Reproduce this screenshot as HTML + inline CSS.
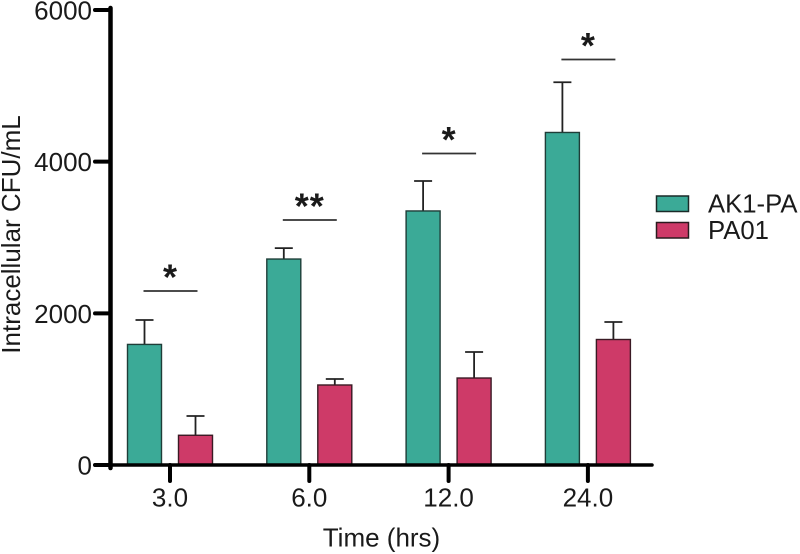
<!DOCTYPE html>
<html><head><meta charset="utf-8"><style>
html,body{margin:0;padding:0;background:#fff;}
svg{display:block;filter:blur(0.35px);}
text{font-family:"Liberation Sans",sans-serif;fill:#1a1a1a;}
</style></head><body>
<svg id="chart" xmlns="http://www.w3.org/2000/svg" width="800" height="554" viewBox="0 0 800 554">
<rect width="800" height="554" fill="#fff"/>
<text transform="translate(20,234.5) rotate(-90)" text-anchor="middle" font-size="26">Intracellular CFU/mL</text>
<text x="381.5" y="546.5" text-anchor="middle" font-size="26">Time (hrs)</text>
<rect x="656.5" y="196" width="32" height="15.5" fill="#3BAA97" stroke="#1a2a28" stroke-width="1.5"/>
<text x="708" y="212.5" font-size="25.7">AK1-PA</text>
<rect x="656.5" y="222.5" width="32" height="15.5" fill="#CE3A68" stroke="#2a1a1e" stroke-width="1.5"/>
<text x="708" y="239" font-size="25.7">PA01</text>
<g id="plot"></g>
</svg>
<script>
const categories = ['3.0', '6.0', '12.0', '24.0'];
const ak1Values = [1590, 2716, 3350, 4385];
const ak1Errors = [322, 144, 395, 662];
const pa01Values = [392, 1055, 1147, 1655];
const pa01Errors = [254, 79, 343, 231];
const sigLevels = [2295, 3231, 4108, 5347];
const sigLabels = ['*', '**', '*', '*'];
const yTicks = [0, 2000, 4000, 6000];

const NS = 'http://www.w3.org/2000/svg';
const plot = document.getElementById('plot');
const y0 = 465, yTop = 10, yMax = 6000;
const groupStart = 170, groupStep = 139.3;
function yScale(v) { return y0 - (v / yMax) * (y0 - yTop); }
function xScale(i) { return groupStart + i * groupStep; }
function make(tag, attrs, parent) {
  const el = document.createElementNS(NS, tag);
  for (const k in attrs) el.setAttribute(k, attrs[k]);
  (parent || plot).appendChild(el);
  return el;
}
const barW = 34, barOffset = 25.5;
function drawBar(cx, value, err, fill, stroke, name) {
  const top = yScale(value), errTop = yScale(value + err);
  const stem = make('line', {x1: cx, x2: cx, y1: top, y2: errTop, stroke: '#222', 'stroke-width': 1.8});
  
  
  const cap = make('line', {x1: cx - 9, x2: cx + 9, y1: errTop, y2: errTop, stroke: '#222', 'stroke-width': 1.8});
  
  
  const bar = make('rect', {x: cx - barW / 2, y: top, width: barW, height: y0 - top, fill: fill, stroke: stroke, 'stroke-width': 1.4});
  
  
}
categories.forEach(function (c, i) {
  const x = xScale(i);
  drawBar(x - barOffset, ak1Values[i], ak1Errors[i], '#3BAA97', '#1f3d38', 'bar-ak1-pa-' + c);
  drawBar(x + barOffset, pa01Values[i], pa01Errors[i], '#CE3A68', '#3a1a24', 'bar-pa01-' + c);

  const sigY = yScale(sigLevels[i]);
  const sig = make('line', {x1: x - 26.5, x2: x + 27.5, y1: sigY, y2: sigY, stroke: '#333', 'stroke-width': 1.7});
  
  
  const star = make('text', {x: x + 0.5, y: sigY - 1.5, 'text-anchor': 'middle', 'font-size': 36, 'font-weight': 'bold', 'letter-spacing': 1});
  star.textContent = sigLabels[i];
  
  

  const tick = make('line', {x1: x, x2: x, y1: y0, y2: y0 + 16, stroke: '#000', 'stroke-width': 4, 'stroke-linecap': 'round'});
  
  
  const label = make('text', {x: x, y: 506.5, 'text-anchor': 'middle', 'font-size': 26});
  label.textContent = c;
  
  
});
const yAxis = make('line', {x1: 110.5, x2: 110.5, y1: yTop - 2, y2: y0 + 3, stroke: '#000', 'stroke-width': 4.5, 'stroke-linecap': 'round'});


const xAxis = make('line', {x1: 95, x2: 652, y1: y0, y2: y0, stroke: '#000', 'stroke-width': 3.5, 'stroke-linecap': 'round'});


yTicks.forEach(function (t) {
  const y = yScale(t);
  const tick = make('line', {x1: 95, x2: 110, y1: y, y2: y, stroke: '#000', 'stroke-width': 4, 'stroke-linecap': 'round'});
  
  
  const label = make('text', {x: 92, y: y + 9.5, 'text-anchor': 'end', 'font-size': 26});
  label.textContent = String(t);
  
  
});
</script>
</body></html>
